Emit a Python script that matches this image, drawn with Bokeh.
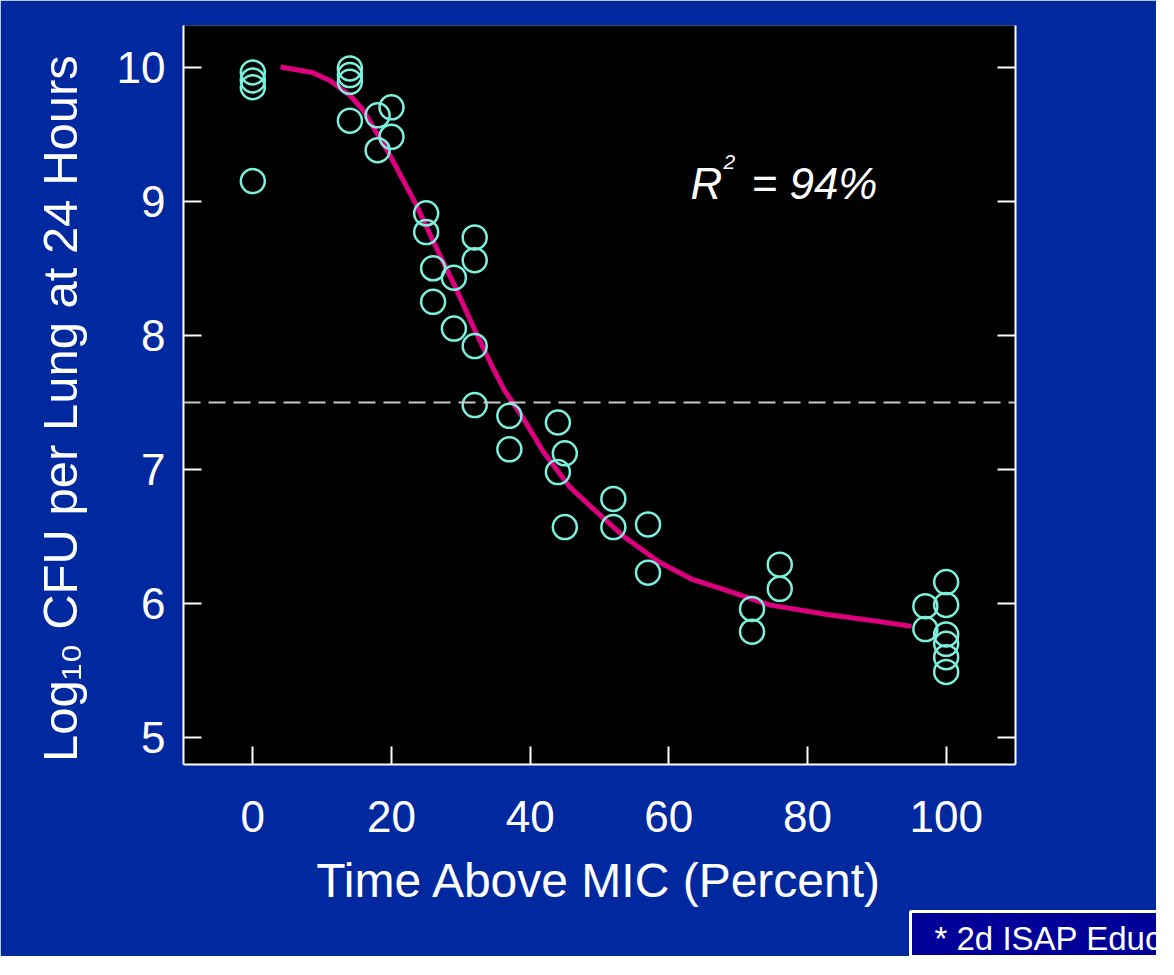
from bokeh.plotting import figure
from bokeh.models import Range1d, FixedTicker, LinearAxis, Span, Label, Title
from bokeh.embed import file_html
from bokeh.resources import INLINE

# ---------------- data ----------------
x_ticks = [0, 20, 40, 60, 80, 100]
y_ticks = [5, 6, 7, 8, 9, 10]

time_above_mic = [0, 0, 0, 0,
                  14, 14, 14, 14,
                  18, 18,
                  20, 20,
                  25, 25,
                  26, 26,
                  29, 29,
                  32, 32, 32, 32,
                  37, 37,
                  44, 44,
                  45, 45,
                  52, 52,
                  57, 57,
                  72, 72,
                  76, 76,
                  97, 97,
                  100, 100, 100, 100, 100, 100]
log_cfu = [9.96, 9.90, 9.85, 9.15,
           9.99, 9.94, 9.89, 9.60,
           9.64, 9.38,
           9.70, 9.48,
           8.91, 8.77,
           8.50, 8.25,
           8.43, 8.05,
           8.73, 8.56, 7.92, 7.48,
           7.40, 7.15,
           7.35, 6.98,
           7.12, 6.57,
           6.78, 6.57,
           6.59, 6.23,
           5.96, 5.79,
           6.29, 6.11,
           5.98, 5.81,
           6.16, 5.99, 5.77, 5.70, 5.60, 5.49]

fit_x = [4.0, 8.6, 11.1, 14.0, 15.9, 19.7, 23.5, 26.4, 29.3, 32.1, 34.6, 36.3,
         38.9, 41.8, 45.7, 48.6, 53.5, 58.6, 63.4, 68.2, 74.5, 82.6, 89.8, 95.0]
fit_y = [10.00, 9.96, 9.90, 9.79, 9.68, 9.35, 8.98, 8.66, 8.35, 8.03, 7.76, 7.59,
         7.39, 7.14, 6.87, 6.73, 6.50, 6.31, 6.18, 6.10, 5.99, 5.92, 5.87, 5.83]

stasis_level = 7.5
x_title = "Time Above MIC (Percent)"
y_title = "Log\u2081\u2080 CFU per Lung at 24 Hours\u00a0\u00a0"
r2_letter = "R"
r2_exp = "2"
r2_value = "= 94%"
footnote = "* 2d ISAP Educational Workshop"

# ---------------- layout ----------------
X0, X1 = -10, 110
Y0, Y1 = 4.8, 10.31
W, H = 1156, 956
OFF = 8                      # page margin: reference pixel -> canvas pixel
FONT = "Liberation Sans"
BG = "#0029A0"
WHITE = "white"

FL, FR = 191 - OFF, 1023 - OFF
FT, FB = 33 - OFF, 776 - OFF


def dx(px):
    return X0 + (px - OFF - FL) * (X1 - X0) / (FR - FL)


def dy(py):
    return Y0 + (FB - (py - OFF)) * (Y1 - Y0) / (FB - FT)


p = figure(width=W, height=H,
           x_range=Range1d(X0, X1), y_range=Range1d(Y0, Y1),
           output_backend="svg", toolbar_location=None,
           min_border_left=FL, min_border_right=W - FR,
           min_border_top=FT, min_border_bottom=H - FB)

p.background_fill_color = "black"
p.border_fill_color = BG
p.outline_line_color = None
p.xgrid.visible = False
p.ygrid.visible = False


def style_axis(ax, ticks, standoff):
    ax.ticker = FixedTicker(ticks=ticks)
    ax.axis_line_color = WHITE
    ax.axis_line_width = 2
    ax.major_tick_line_color = WHITE
    ax.major_tick_line_width = 2
    ax.major_tick_in = 18
    ax.major_tick_out = 0
    ax.minor_tick_line_color = None
    ax.major_label_text_color = WHITE
    ax.major_label_text_font = FONT
    ax.major_label_text_font_size = "44px"
    ax.major_label_standoff = standoff
    ax.axis_label_text_color = WHITE
    ax.axis_label_text_font = FONT
    ax.axis_label_text_font_style = "normal"


xa = p.xaxis[0]
style_axis(xa, x_ticks, 36)
xa.axis_label = x_title
xa.axis_label_text_font_size = "48px"
xa.axis_label_standoff = 19

ya = p.yaxis[0]
style_axis(ya, y_ticks, 18)
ya.axis_label = y_title
ya.axis_label_text_font_size = "49px"
ya.axis_label_standoff = 27

right_axis = LinearAxis()
style_axis(right_axis, y_ticks, 0)
right_axis.major_label_overrides = {t: "" for t in y_ticks}
p.add_layout(right_axis, "right")

# dashed reference line
p.add_layout(Span(location=stasis_level, dimension="width",
                  line_color="#C8C8C8", line_width=2, line_dash="17 8"))

# fitted curve
p.line(fit_x, fit_y, line_color="#DC007F", line_width=5)

# observations
p.scatter(time_above_mic, log_cfu, marker="circle", size=24,
          fill_color=None, line_color="#7DF0DC", line_width=2.5)

# R^2 annotation
p.add_layout(Label(x=dx(698), y=dy(192), text=r2_letter, text_align="left",
                   text_baseline="alphabetic", text_color=WHITE, text_font=FONT,
                   text_font_style="italic", text_font_size="44px"))
p.add_layout(Label(x=dx(731), y=dy(170), text=r2_exp, text_align="left",
                   text_baseline="alphabetic", text_color=WHITE, text_font=FONT,
                   text_font_style="italic", text_font_size="21px"))
p.add_layout(Label(x=dx(759), y=dy(192), text=r2_value, text_align="left",
                   text_baseline="alphabetic", text_color=WHITE, text_font=FONT,
                   text_font_style="italic", text_font_size="44px"))

# footnote box (below the axis title); padding = (left, right, top, bottom)
p.add_layout(Title(text=footnote, align="left", offset=(918 - OFF) - FL,
                   text_color=WHITE, text_font=FONT, text_font_size="33px",
                   text_font_style="normal", standoff=0,
                   background_fill_color="#000099", border_line_color=WHITE,
                   border_line_width=3, padding=(24, 20, 8, 0)), "below")

html = file_html(p, INLINE)
open("out.html", "w").write(html)
